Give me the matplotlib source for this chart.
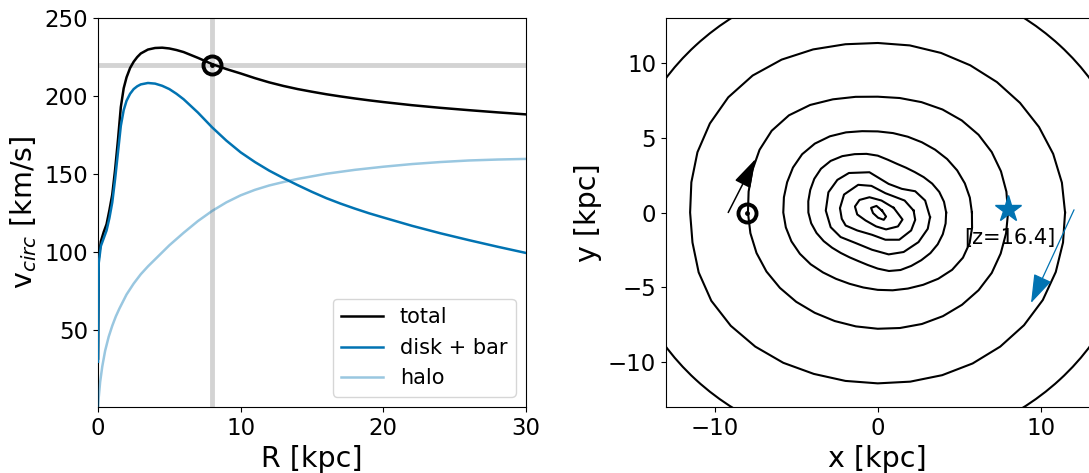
import matplotlib
matplotlib.use("Agg")
import numpy as np
import matplotlib.pyplot as plt
from matplotlib.patches import Circle

# --- rotation curve ---
r_kpc = [0, 0.05, 0.2, 0.4, 0.6, 0.8, 1.0, 1.2, 1.4, 1.6, 1.8, 2.0, 2.25, 2.5, 2.75, 3.0,
         3.5, 4.0, 4.5, 5.0, 5.5, 6.0, 7.0, 8.0, 9.0, 10, 11, 12, 13, 14, 15, 16, 17, 18,
         19, 20, 22, 24, 26, 28, 30]
v_total = [32, 96, 107, 113, 118, 127, 137, 153, 172, 193, 205, 212, 218, 222, 225, 227.3,
           229.8, 230.8, 231, 230.5, 229.5, 228.2, 224.5, 220.5, 217.3, 214.5, 211.5, 208.8,
           206.5, 204.5, 202.8, 201.2, 199.8, 198.5, 197.3, 196.2, 194.2, 192.5, 191,
           189.6, 188.3]
v_disk = [30, 93, 104, 109, 114, 122, 132, 147, 164, 181, 191, 197, 201.5, 204.5, 206.3,
          207.5, 208.4, 208, 206.6, 204.5, 201.5, 198, 189.5, 180, 171.5, 164, 157.8, 152.3,
          147.5, 143, 138.7, 134.7, 131.2, 128, 125, 122.3, 117, 112.2, 107.8, 103.6, 99.6]
r_halo = [0, 0.05, 0.15, 0.3, 0.5, 0.75, 1.0, 1.25, 1.5, 2.0, 2.5, 3.0, 3.5, 4.0, 4.5, 5.0,
          6.0, 7.0, 8.0, 9.0, 10, 11, 12, 13, 14, 16, 18, 20, 22, 24, 26, 28, 30]
v_halo = [0, 7, 17, 27, 37, 46, 53, 59, 64, 73, 80, 86, 91, 95.5, 100, 104.5, 112.5, 120,
          126.5, 132, 136.5, 140, 142.8, 145, 147, 150.3, 152.8, 154.8, 156.5, 157.8,
          158.8, 159.4, 159.8]

r_sun, v_sun = 8.0, 220.0

# --- potential contours in the galactic plane (kpc) ---
ring1_radius = 15.8  # outermost, only the corners show

# smooth rings: radius (kpc) every 10 degrees, counter-clockwise from +x
theta_deg = list(range(0, 360, 10))
ring2_r = [11.5, 11.48, 11.46, 11.43, 11.40, 11.38, 11.36, 11.35, 11.34, 11.33, 11.42, 11.6,
           11.8, 11.95, 11.98, 11.9, 11.78, 11.62, 11.52, 11.55, 11.7, 11.8, 11.78, 11.7,
           11.6, 11.48, 11.43, 11.42, 11.48, 11.57, 11.65, 11.7, 11.72, 11.7, 11.63, 11.55]
ring3_r = [8.0, 8.02, 8.05, 8.08, 8.08, 8.03, 7.95, 7.85, 7.77, 7.74, 7.85, 8.05, 8.3, 8.48,
           8.5, 8.38, 8.2, 8.05, 7.97, 7.94, 7.92, 7.89, 7.84, 7.79, 7.74, 7.72, 7.73, 7.77,
           7.84, 7.93, 8.0, 8.05, 8.08, 8.08, 8.03, 8.0]
ring4_r = [5.78, 5.74, 5.69, 5.63, 5.56, 5.48, 5.42, 5.39, 5.39, 5.42, 5.52, 5.70, 5.88,
           6.01, 6.06, 6.01, 5.92, 5.85, 5.8, 5.73, 5.64, 5.52, 5.38, 5.23, 5.12, 5.07, 5.09,
           5.17, 5.28, 5.41, 5.58, 5.78, 5.96, 6.04, 6.0, 5.88]
ring5_r = [4.2, 4.13, 4.02, 3.86, 3.68, 3.53, 3.46, 3.46, 3.58, 3.8, 3.98, 4.15, 4.35, 4.5,
           4.55, 4.5, 4.41, 4.33, 4.26, 4.15, 4.0, 3.83, 3.66, 3.53, 3.46, 3.46, 3.56, 3.75,
           3.97, 4.09, 4.12, 4.16, 4.22, 4.25, 4.25, 4.23]
smooth_rings = [ring2_r, ring3_r, ring4_r, ring5_r]

# inner rings are coarse polygons in the original: (x, y) vertices
ring6 = [(3.21, -0.31), (2.91, 0.8), (2.3, 1.42), (1.48, 1.58), (0.67, 1.91), (-0.51, 2.69),
         (-1.77, 2.64), (-2.48, 2.18), (-3.03, 1.35), (-3.19, 0.13), (-2.89, -0.98),
         (-2.28, -1.64), (-1.36, -2.04), (-0.35, -2.49), (0.67, -2.8), (1.59, -2.64),
         (2.5, -1.98), (3.07, -1.09), (3.21, -0.31)]
ring7 = [(2.2, 0.13), (1.65, 0.8), (0.47, 1.29), (-0.39, 1.78), (-1.2, 1.85), (-2.07, 1.2),
         (-2.32, 0.29), (-2.21, -0.42), (-1.97, -0.87), (-1.26, -1.2), (-0.35, -1.49),
         (0.47, -1.82), (1.32, -1.82), (2.05, -1.2), (2.3, -0.49), (2.2, 0.13)]
ring8 = [(0.98, 0.31), (0.23, 0.8), (-0.51, 1.02), (-1.12, 0.84), (-1.40, 0.4),
         (-1.26, -0.13), (-0.75, -0.53), (-0.1, -0.93), (0.51, -1.13), (1.24, -0.93),
         (1.52, -0.47), (0.98, 0.31)]
ring9 = [(0.26, 0.13), (-0.08, 0.44), (-0.41, 0.31), (-0.29, -0.04), (0.02, -0.35),
         (0.37, -0.49), (0.51, -0.27), (0.26, 0.13)]
polygon_rings = [ring6, ring7, ring8, ring9]

# sun, orbit arrows and the star
sun_xy = (-8.0, 0.0)
sun_arrow = [(-9.18, 0.0), (-7.5, 3.58)]
star_xy = (8.0, 0.25)
star_arrow = [(12.05, 0.18), (9.41, -6.05)]
star_label = "[z=16.4]"

blue = "#0173b2"
tick_fs = 16.5
label_fs = 20.5

fig = plt.figure(figsize=(10.89, 4.73), dpi=100)
ax1 = fig.add_axes([98 / 1089, 66 / 473, 428 / 1089, 389 / 473])
ax2 = fig.add_axes([666 / 1089, 66 / 473, 423.5 / 1089, 389 / 473])

# --- left: circular velocity ---
ax1.axhline(v_sun, color="lightgrey", lw=3.5, zorder=1)
ax1.axvline(r_sun, color="lightgrey", lw=3.5, zorder=1)
ax1.plot(r_kpc, v_total, color="black", lw=1.8, label="total", zorder=3)
ax1.plot(r_kpc, v_disk, color=blue, lw=1.8, label="disk + bar", zorder=3)
ax1.plot(r_halo, v_halo, color=blue, alpha=0.4, lw=1.8, label="halo", zorder=3)
ax1.plot(r_sun, v_sun, "o", ms=13, mfc="none", mec="black", mew=2.8, zorder=4)
ax1.plot(r_sun, v_sun, ".", ms=5, color="black", zorder=4)
ax1.set_xlim(0, 30)
ax1.set_ylim(1, 250)
ax1.set_xticks([0, 10, 20, 30])
ax1.set_yticks([50, 100, 150, 200, 250])
ax1.set_xlabel("R [kpc]", fontsize=label_fs)
ax1.set_ylabel(r"v$_{circ}$ [km/s]", fontsize=label_fs)
ax1.tick_params(labelsize=tick_fs)
ax1.legend(loc="lower right", fontsize=15)

# --- right: face-on potential ---
ax2.add_patch(Circle((0, 0), ring1_radius, fill=False, ec="black", lw=1.5, zorder=2))
th = np.radians(theta_deg + [360])
for radii in smooth_rings:
    rr = np.array(radii + radii[:1])
    ax2.plot(rr * np.cos(th), rr * np.sin(th), color="black", lw=1.5, zorder=2)
for ring in polygon_rings:
    xs, ys = zip(*ring)
    ax2.plot(xs, ys, color="black", lw=1.5, zorder=2)
ax2.plot(*sun_xy, "o", ms=13, mfc="none", mec="black", mew=2.8, zorder=4)
ax2.plot(*sun_xy, ".", ms=5, color="black", zorder=4)
ax2.annotate("", xy=sun_arrow[1], xytext=sun_arrow[0],
             arrowprops=dict(arrowstyle="-|>,head_length=0.9,head_width=0.27",
                             mutation_scale=20, color="black", lw=1.1,
                             shrinkA=0, shrinkB=0), zorder=5)
ax2.plot(*star_xy, "*", ms=20, color=blue, zorder=4)
ax2.annotate("", xy=star_arrow[1], xytext=star_arrow[0],
             arrowprops=dict(arrowstyle="-|>,head_length=0.9,head_width=0.3",
                             mutation_scale=20, color=blue, lw=0.9,
                             shrinkA=0, shrinkB=0), zorder=5)
ax2.text(8.1, -1.7, star_label, ha="center", va="center", fontsize=15, zorder=5)
ax2.set_xlim(-13, 13)
ax2.set_ylim(-13, 13)
ax2.set_xticks([-10, 0, 10])
ax2.set_yticks([-10, -5, 0, 5, 10])
ax2.set_xlabel("x [kpc]", fontsize=label_fs)
ax2.set_ylabel("y [kpc]", fontsize=label_fs)
ax2.tick_params(labelsize=tick_fs)

fig.savefig("out.png", dpi=100)
